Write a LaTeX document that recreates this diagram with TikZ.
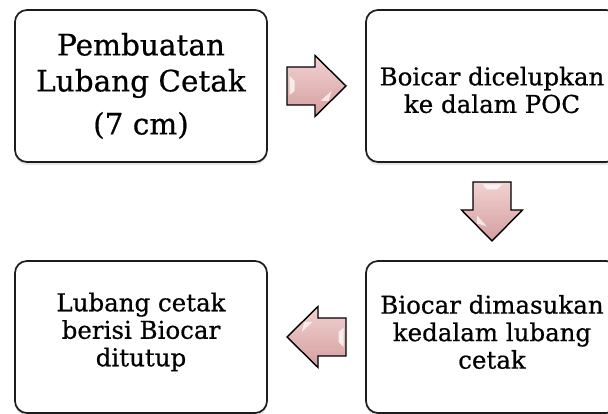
\documentclass[tikz,border=0pt]{standalone}
\usepackage{fontspec}
\setmainfont{DejaVu Serif}[FakeBold=0.6]
\usetikzlibrary{shadows,calc}

\definecolor{arrowlight}{RGB}{242,210,210}
\definecolor{arrowdark}{RGB}{212,158,158}
\definecolor{boxline}{RGB}{28,28,28}

\tikzset{
  x=1pt, y=1pt,
  stepbox/.style={draw=boxline, line width=1.7pt, rounded corners=12pt,
    fill=white, minimum width=252pt, minimum height=152pt, inner sep=0pt,
    drop shadow={shadow xshift=0pt, shadow yshift=-3pt, opacity=0.2}},
  boxtext/.style={align=center, inner sep=0pt},
  bigtext/.style={font=\fontsize{29.5}{36}\selectfont},
  smalltext/.style={font=\fontsize{24.5}{27.5}\selectfont},
  % a glossy block arrow pointing right, centred on the origin
  blockarrow/.pic={
    \path[draw=black, line width=1.4pt, line join=miter,
          top color=arrowlight, bottom color=arrowdark]
      (-29.5,-19) -- (-1.5,-19) -- (-1.5,-30.5) -- (29.5,0)
      -- (-1.5,30.5) -- (-1.5,19) -- (-29.5,19) -- cycle;
    \fill[white, opacity=0.75] (-27,-9) -- (-22,-5) -- (-22,5) -- (-27,10) -- cycle;
    \fill[white, opacity=0.7] (4,-15) -- (15,-5) -- (12,-15) -- cycle;
  }
}

\begin{document}
\begin{tikzpicture}
  \clip (0,0) rectangle (608,414);

  % process steps
  \node[stepbox] (b1) at (141,328) {};
  \node[stepbox] (b2) at (492,328) {};
  \node[stepbox] (b3) at (492,77) {};
  \node[stepbox] (b4) at (141,77) {};

  \node[boxtext, bigtext] (t1) at (b1.center) {Pembuatan\\Lubang Cetak\\[7pt](7 cm)};
  \node[boxtext, smalltext] (t2) at ([yshift=-4pt]b2.center) {Boicar dicelupkan\\ke dalam POC};
  \node[boxtext, smalltext] (t3) at ([yshift=5pt]b3.center) {Biocar dimasukan\\kedalam lubang\\cetak};
  \node[boxtext, smalltext] (t4) at ([yshift=5pt]b4.center) {Lubang cetak\\berisi Biocar\\ditutup};

  % block arrows between the steps
  \pic at ($(b1.east)!0.5!(b2.west)$) {blockarrow};
  \pic[rotate=-90] at ($(b2.south)!0.5!(b3.north)$) {blockarrow};
  \pic[rotate=180] at ($(b3.west)!0.5!(b4.east)$) {blockarrow};
\end{tikzpicture}
\end{document}
